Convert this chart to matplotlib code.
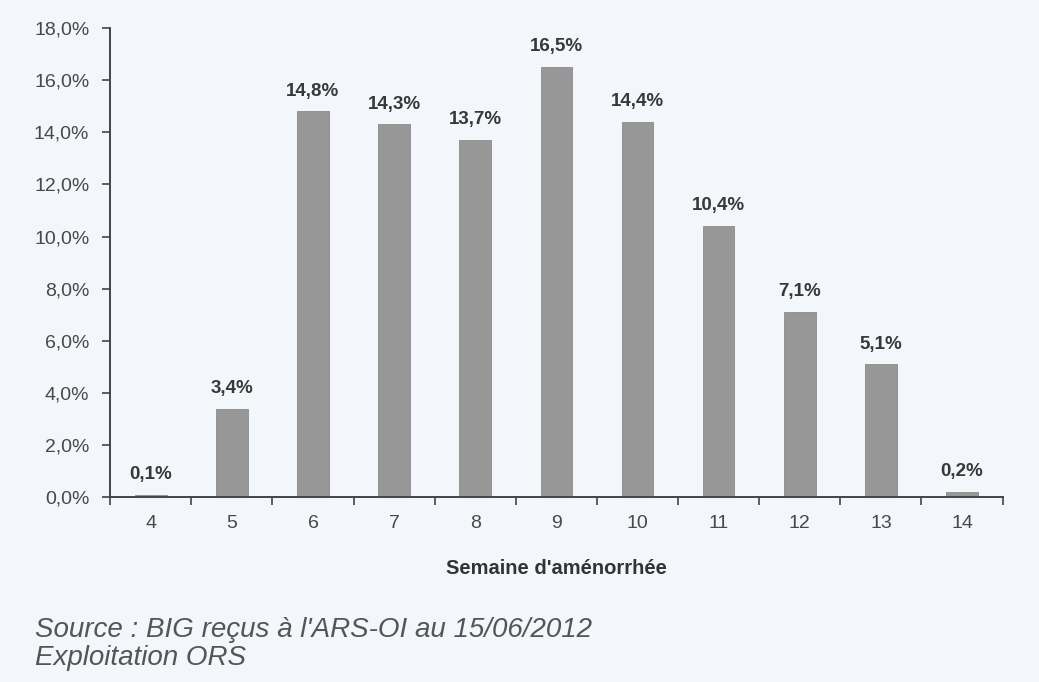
import numpy as np
import matplotlib.pyplot as plt
from matplotlib.ticker import FuncFormatter, FixedLocator

plt.rcParams['font.family'] = ['Liberation Sans', 'DejaVu Sans']

# données
semaines = ['4', '5', '6', '7', '8', '9', '10', '11', '12', '13', '14']
pourcentages = [0.1, 3.4, 14.8, 14.3, 13.7, 16.5, 14.4, 10.4, 7.1, 5.1, 0.2]
etiquettes = ['0,1%', '3,4%', '14,8%', '14,3%', '13,7%', '16,5%', '14,4%',
              '10,4%', '7,1%', '5,1%', '0,2%']

fond = '#f3f6fa'
fig = plt.figure(figsize=(10.39, 6.82), dpi=100, facecolor=fond)
ax = fig.add_axes([0.106, 0.271, 0.859, 0.688], facecolor=fond)

x = np.arange(len(semaines))
ax.bar(x, pourcentages, width=0.39, color='#979797', edgecolor='#8a8a8a', linewidth=0.6)

for xi, v, lab in zip(x, pourcentages, etiquettes):
    ax.text(xi, v + 0.6, lab, ha='center', va='baseline', fontsize=13.5,
            fontweight='bold', color='#383838')

ax.set_xlim(-0.5, len(semaines) - 0.5)
ax.set_ylim(0, 18)
ax.set_yticks(np.arange(0, 18.1, 2))
ax.yaxis.set_major_formatter(FuncFormatter(lambda v, p: ('%.1f%%' % v).replace('.', ',')))

ax.set_xticks(x)
ax.set_xticklabels(semaines)
ax.xaxis.set_minor_locator(FixedLocator(np.arange(-0.5, len(semaines), 1.0)))
ax.tick_params(axis='x', which='major', length=0, pad=13, labelsize=14, labelcolor='#484848')
ax.tick_params(axis='x', which='minor', length=6, width=1.2, color='#444444', direction='out')
ax.tick_params(axis='y', length=6, width=1.2, color='#444444', labelsize=14,
               labelcolor='#484848', pad=9)

for s in ['top', 'right']:
    ax.spines[s].set_visible(False)
for s in ['left', 'bottom']:
    ax.spines[s].set_color('#444444')
    ax.spines[s].set_linewidth(1.4)

ax.set_xlabel("Semaine d'aménorrhée", fontsize=14.5, fontweight='bold', color='#333333', labelpad=19)

fig.text(0.034, 0.066, "Source : BIG reçus à l'ARS-OI au 15/06/2012", fontsize=20,
         style='italic', color='#555555', va='baseline')
fig.text(0.034, 0.025, "Exploitation ORS", fontsize=20, style='italic', color='#555555',
         va='baseline')

fig.savefig('out.png', dpi=100, facecolor=fond)
